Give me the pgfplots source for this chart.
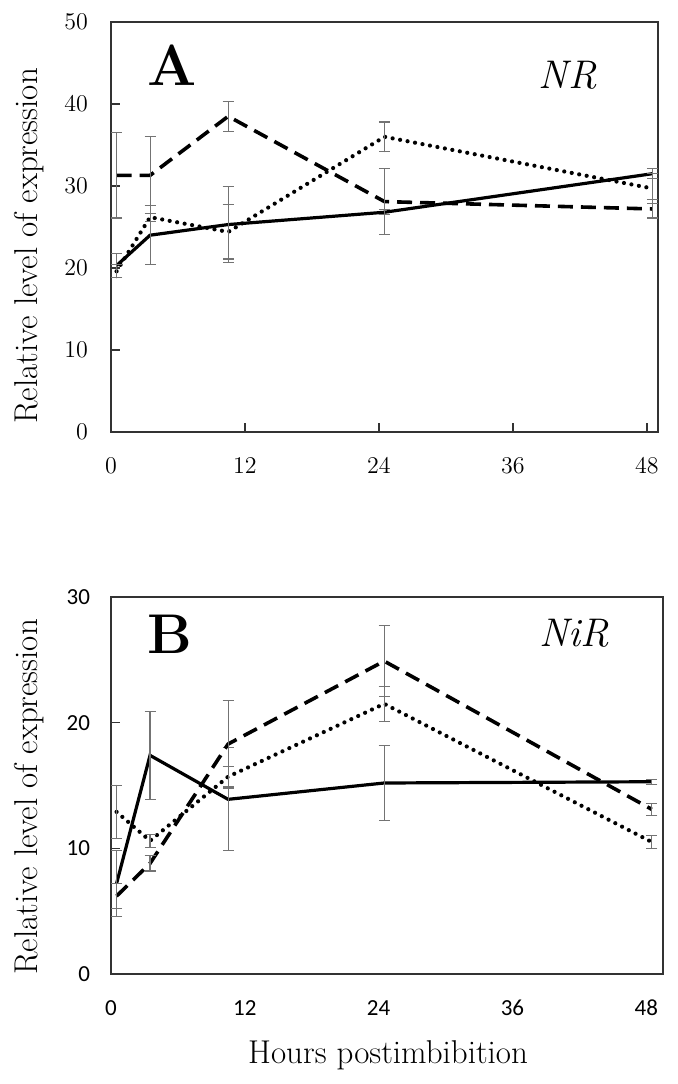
\documentclass[border=0pt]{standalone}
\usepackage{fontspec}
\newfontfamily\carlito{Carlito}
\usepackage{pgfplots}
\pgfplotsset{compat=1.18}
\usepackage{pgfplotstable}

% Panel A (NR)
\pgfplotstableread{
x y e
0.5 20.3 1.5
3.5 24.0 3.6
10.5 25.3 4.6
24.5 26.8 0.3
48.5 31.5 0.6
}\Asolid
\pgfplotstableread{
x y e
0.5 19.6 0.8
3.5 26.2 0.5
10.5 24.4 3.3
24.5 36.0 1.8
48.5 29.7 1.8
}\Adotted
\pgfplotstableread{
x y e
0.5 31.3 5.2
3.5 31.3 4.7
10.5 38.5 1.8
24.5 28.1 4.0
48.5 27.2 1.1
}\Adashed
% Panel B (NiR)
\pgfplotstableread{
x y e
0.5 7.2 2.6
3.5 17.4 3.5
10.5 13.9 4.1
24.5 15.2 3.0
48.5 15.3 0.2
}\Bsolid
\pgfplotstableread{
x y e
0.5 12.9 2.1
3.5 10.6 0.5
10.5 15.7 0.8
24.5 21.5 1.4
48.5 10.5 0.5
}\Bdotted
\pgfplotstableread{
x y e
0.5 6.2 1.0
3.5 8.8 0.6
10.5 18.3 3.5
24.5 24.9 2.8
48.5 13.1 0.5
}\Bdashed

\pgfplotsset{
  panel/.style={
    scale only axis, clip=false,
    axis line style={black!80, line width=0.7pt},
    tick align=inside, xtick pos=bottom, ytick pos=left,
    major tick length=4.5pt,
    tick style={black!80, line width=0.7pt},
    label style={font=\fontsize{16.5}{19}\selectfont},
    ylabel={Relative level of expression},
  },
  errs/.style={
    error bars/.cd, y dir=both, y explicit,
    error mark=|,
    error bar style={solid, line width=0.55pt, black!55},
    error mark options={solid, line width=0.55pt, black!55, mark size=2.75pt},
  },
  solidline/.style={black, line width=1.6pt, no markers, errs},
  dashedline/.style={black, line width=1.8pt, dash pattern=on 7.5pt off 4pt, no markers, errs},
  dottedline/.style={black, line width=2.1pt, line cap=round, dash pattern=on 0pt off 3.8pt, no markers, errs},
}

\begin{document}
\begin{tikzpicture}
\useasboundingbox (0,0) rectangle (338.5pt,-542pt);

\begin{axis}[panel,
  at={(55.5pt,-11pt)}, anchor=north west,
  width=273.5pt, height=205pt,
  xmin=0, xmax=49, ymin=0, ymax=50,
  xtick={0,12,24,36,48}, ytick={0,10,...,50},
  ticklabel style={font=\fontsize{11.5}{13}\selectfont},
  xticklabel style={yshift=-9.5pt},
  yticklabel style={xshift=-8pt},
  ylabel style={at={(axis description cs:-0.150,0.454)}, anchor=center},
]
\addplot[solidline] table[x=x, y=y, y error=e] {\Asolid};
\addplot[dottedline] table[x=x, y=y, y error=e] {\Adotted};
\addplot[dashedline] table[x=x, y=y, y error=e] {\Adashed};
\node[font=\bfseries\fontsize{29}{30}\selectfont] at (rel axis cs:0.112,0.895) {A};
\node[font=\itshape\fontsize{20}{22}\selectfont] at (rel axis cs:0.835,0.871) {NR};
\end{axis}

\begin{axis}[panel,
  at={(55.5pt,-298.5pt)}, anchor=north west,
  width=276pt, height=188.5pt,
  xmin=0, xmax=49.5, ymin=0, ymax=30,
  xtick={0,12,24,36,48}, ytick={0,10,20,30},
  xtick style={draw=none},
  /pgf/number format/assume math mode=true,
  ticklabel style={font=\carlito\fontsize{11.5}{13}\selectfont},
  xticklabel style={yshift=-9.5pt},
  yticklabel style={xshift=-7pt},
  xlabel={Hours postimbibition},
  xlabel style={at={(axis description cs:0.502,-0.215)}, anchor=center},
  ylabel style={at={(axis description cs:-0.1486,0.47)}, anchor=center},
]
\addplot[solidline] table[x=x, y=y, y error=e] {\Bsolid};
\addplot[dottedline] table[x=x, y=y, y error=e] {\Bdotted};
\addplot[dashedline] table[x=x, y=y, y error=e] {\Bdashed};
\node[font=\bfseries\fontsize{28}{30}\selectfont] at (rel axis cs:0.107,0.902) {B};
\node[font=\itshape\fontsize{20}{22}\selectfont] at (rel axis cs:0.84,0.904) {NiR};
\end{axis}
\end{tikzpicture}
\end{document}
